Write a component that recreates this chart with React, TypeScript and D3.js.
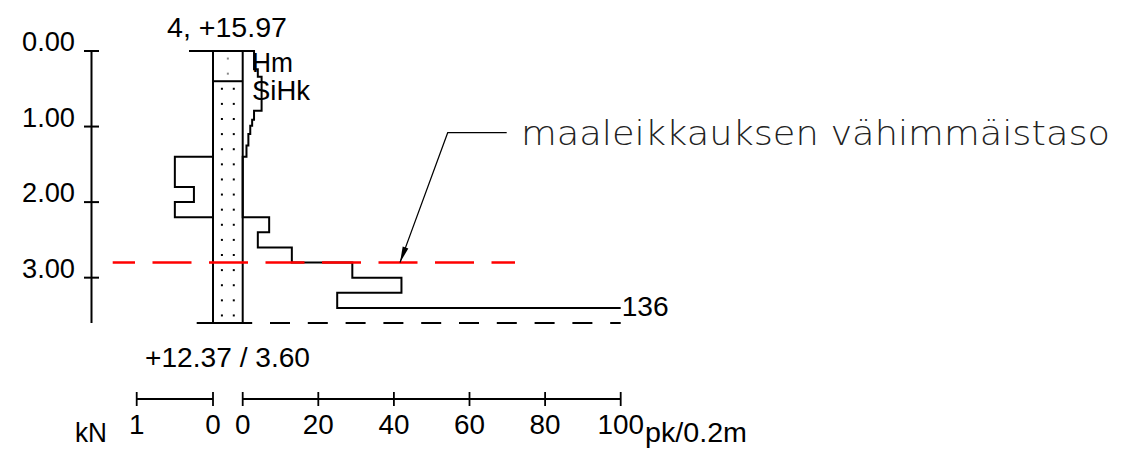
import { useEffect, useRef } from 'react';
import * as d3 from 'd3';

// sounding point 4
const pointId = '4';
const topLevel = 15.97;
const endDepth = 3.6;
const depthTicks = [0, 1, 2, 3];

// soil layers (top depth in m)
const layerNames = ['Hm', 'SiHk'];
const layerTops = [0, 0.4];

// half turns per 0.2 m, each value holds from its depth to the next one
const pkDepths = [0, 0.24, 0.34, 0.79, 0.91, 0.99, 1.1, 1.25, 1.4, 2.2, 2.4, 2.6, 2.8, 3.0, 3.2, 3.4];
const pkValues = [3, 4, 5, 3, 2.5, 2, 1.5, 1, 0, 7, 4, 13, 29, 42, 25, 136];

// load in kN (sinking without turning)
const kNDepths = [1.4, 1.8, 2.0, 2.2];
const kNValues = [0.5, 0.25, 0.5, 0];

const kNTicks = [1, 0];
const pkTicks = [0, 20, 40, 60, 80, 100];

const minLevelDepth = 2.8;
const minLevelText = 'maaleikkauksen vähimmäistaso';

const W = 1123;
const H = 455;
const FONT = "'Liberation Sans', Arial, sans-serif";

const App = () => {
  const svgRef = useRef<SVGSVGElement>(null);

  useEffect(() => {
    const svg = d3.select(svgRef.current);
    svg.selectAll('*').remove();

    const y = d3.scaleLinear().domain([0, endDepth]).range([51, 323]);
    const pk = d3.scaleLinear().domain([0, 100]).range([242.7, 620.7]);
    const kN = d3.scaleLinear().domain([0, 1]).range([213, 136.7]);
    const colL = kN(0);
    const colR = pk(0);

    const text = (x: number, yy: number, s: string, len?: number, anchor = 'start', size = 27) => {
      const t = svg.append('text')
        .attr('x', x)
        .attr('y', yy)
        .attr('text-anchor', anchor)
        .style('font-family', FONT)
        .style('font-size', size + 'px')
        .attr('fill', '#000')
        .text(s);
      if (len) t.attr('textLength', len).attr('lengthAdjust', 'spacingAndGlyphs');
      return t;
    };

    // depth axis
    const axisX = 91.5;
    svg.append('line')
      .attr('x1', axisX).attr('x2', axisX)
      .attr('y1', y(0)).attr('y2', y(endDepth))
      .attr('stroke', '#000').attr('stroke-width', 2);
    depthTicks.forEach(d => {
      svg.append('line')
        .attr('x1', 84).attr('x2', 99)
        .attr('y1', y(d)).attr('y2', y(d))
        .attr('stroke', '#000').attr('stroke-width', 2);
      text(75, y(d), d3.format('.2f')(d), 53, 'end');
    });

    // column
    svg.append('rect')
      .attr('x', colL).attr('y', y(0))
      .attr('width', colR - colL).attr('height', y(endDepth) - y(0))
      .attr('fill', 'none').attr('stroke', '#000').attr('stroke-width', 2);
    svg.append('line')
      .attr('x1', 189).attr('x2', colR)
      .attr('y1', y(0)).attr('y2', y(0))
      .attr('stroke', '#000').attr('stroke-width', 2);
    layerTops.slice(1).forEach(d => {
      svg.append('line')
        .attr('x1', colL).attr('x2', colR)
        .attr('y1', y(d)).attr('y2', y(d))
        .attr('stroke', '#000').attr('stroke-width', 2);
    });

    // fill dots
    const dots: [number, number, boolean][] = [];
    for (let d = 0.1; d < layerTops[1]; d += 0.2) dots.push([(colL + colR) / 2, y(d), true]);
    for (let d = 0.5; d < endDepth; d += 0.2) {
      dots.push([colL + (colR - colL) * 0.3, y(d), false]);
      dots.push([colL + (colR - colL) * 0.7, y(d), false]);
    }
    svg.append('g').selectAll('rect')
      .data(dots)
      .enter()
      .append('rect')
      .attr('x', d => d[0] - 1)
      .attr('y', d => d[1] - 1)
      .attr('width', 2)
      .attr('height', 2)
      .attr('fill', d => (d[2] ? '#888' : '#000'));

    // bottom dashed line
    svg.append('line')
      .attr('x1', 196.7).attr('x2', pk(100))
      .attr('y1', y(endDepth)).attr('y2', y(endDepth))
      .attr('stroke', '#000').attr('stroke-width', 2)
      .attr('stroke-dasharray', '20 17.8')
      .attr('stroke-dashoffset', 2.3);

    // pk profile
    let p = `M${colR},${y(pkDepths[0])}`;
    pkValues.forEach((v, i) => {
      p += `H${pk(Math.min(v, 100))}`;
      if (i < pkDepths.length - 1) p += `V${y(pkDepths[i + 1])}`;
    });
    svg.append('path')
      .attr('d', p)
      .attr('fill', 'none').attr('stroke', '#000').attr('stroke-width', 2);
    const last = pkValues[pkValues.length - 1];
    if (last > 100) text(pk(100) + 1, y(pkDepths[pkDepths.length - 1]) + 8, String(last), 47);

    // kN profile
    let q = `M${colL},${y(kNDepths[0])}`;
    kNValues.forEach((v, i) => {
      q += `H${kN(v)}`;
      if (i < kNDepths.length - 1) q += `V${y(kNDepths[i + 1])}`;
    });
    svg.append('path')
      .attr('d', q)
      .attr('fill', 'none').attr('stroke', '#000').attr('stroke-width', 2);

    // layer names
    text(252, 72, layerNames[0], 41);
    text(252, 100, layerNames[1], 58);

    // head / foot labels
    text(167, 37, `${pointId}, +${topLevel.toFixed(2)}`, 120);
    text(145, 367, `+${(topLevel - endDepth).toFixed(2)} / ${endDepth.toFixed(2)}`, 165);

    // minimum level
    const ly = y(minLevelDepth);
    svg.append('line')
      .attr('x1', 112.7).attr('x2', 515)
      .attr('y1', ly).attr('y2', ly)
      .attr('stroke', '#ff0000').attr('stroke-width', 2.6)
      .attr('stroke-dasharray', '39 17.5')
      .attr('stroke-dashoffset', 16.7);

    // leader
    const tip = [400, ly];
    const knee = [447.7, 132.7];
    svg.append('path')
      .attr('d', `M506.7,132.7H${knee[0]}L${tip[0]},${tip[1]}`)
      .attr('fill', 'none').attr('stroke', '#000').attr('stroke-width', 1.2);
    const dx = tip[0] - knee[0];
    const dy = tip[1] - knee[1];
    const len = Math.hypot(dx, dy);
    const ux = dx / len, uy = dy / len;
    const bx = tip[0] - ux * 16, by = tip[1] - uy * 16;
    svg.append('path')
      .attr('d', `M${tip[0]},${tip[1]}L${bx - uy * 3},${by + ux * 3}L${bx + uy * 3},${by - ux * 3}Z`)
      .attr('fill', '#000');
    svg.append('text')
      .attr('x', 521)
      .attr('y', 145)
      .attr('textLength', 589)
      .attr('lengthAdjust', 'spacingAndGlyphs')
      .style('font-family', "'DejaVu Sans', sans-serif")
      .style('font-weight', 200)
      .style('font-size', '34px')
      .attr('fill', '#222')
      .text(minLevelText);

    // bottom scales
    const sy = 399;
    const scaleLine = (x1: number, x2: number, ticks: number[], s: d3.ScaleLinear<number, number>) => {
      svg.append('line')
        .attr('x1', x1).attr('x2', x2)
        .attr('y1', sy).attr('y2', sy)
        .attr('stroke', '#000').attr('stroke-width', 1.8);
      ticks.forEach(t => {
        svg.append('line')
          .attr('x1', s(t)).attr('x2', s(t))
          .attr('y1', sy - 7).attr('y2', sy + 7)
          .attr('stroke', '#000').attr('stroke-width', 1.8);
        text(s(t), 434, String(t), String(t).length * 15.5, 'middle');
      });
    };
    scaleLine(kN(1), kN(0), kNTicks, kN);
    scaleLine(pk(0), pk(100), pkTicks, pk);
    text(75, 442, 'kN', 32);
    text(645, 442, 'pk/0.2m', 102);
  }, []);

  return (
    <svg
      ref={svgRef}
      width={W}
      height={H}
      style={{ position: 'absolute', left: 0, top: 0, background: '#fff', display: 'block' }}
    />
  );
};

export default App;
